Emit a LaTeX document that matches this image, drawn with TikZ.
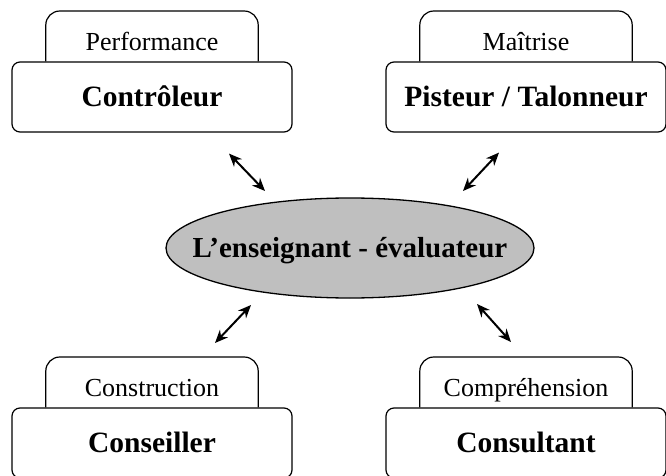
\documentclass[tikz,border=0pt]{standalone}
\usepackage{fontspec}
\setmainfont{Liberation Serif}
\usetikzlibrary{positioning,calc,shapes.geometric,arrows.meta}
\tikzset{
	role/.style={rectangle, rounded corners=8pt, draw=black, line width=1.2pt, fill=white, minimum width=280pt, minimum height=70pt, inner sep=0pt, text height=20pt, text depth=2pt, font=\fontsize{29.5}{33}\selectfont\bfseries},
	tab/.style={rectangle, minimum width=212pt, minimum height=50pt, inner sep=0pt, text height=28pt, text depth=0pt, font=\fontsize{26}{30}\selectfont},
	tabline/.style={rounded corners=14pt, line width=1.2pt},
	centre/.style={ellipse, draw=black, line width=1.3pt, fill=black!25, minimum width=368pt, minimum height=100pt, inner xsep=-32pt, inner ysep=0pt, text height=19pt, text depth=1pt, font=\fontsize{29}{33}\selectfont\bfseries},
	link/.style={<->, >={Stealth[length=13pt,width=11pt]}, line width=2pt}
}

\begin{document}
\begin{tikzpicture}[x=1pt,y=1pt]
\useasboundingbox (0,0) rectangle (666,475);
\node[role] (Ctrl) at (152,378) {Contrôleur};
\node[role] (Pist) at (526,378) {Pisteur / Talonneur};
\node[role] (Cons) at (152,32) {Conseiller};
\node[role] (Consu) at (526,32) {Consultant};
\node[tab, above=0pt of Ctrl] (PerfTab) {Performance};
\node[tab, above=0pt of Pist] (MaitTab) {Maîtrise};
\node[tab, above=0pt of Cons] (ConstTab) {Construction};
\node[tab, above=0pt of Consu] (CompTab) {Compréhension};
\node[centre] (Ens) at (350,227) {L’enseignant - évaluateur};

% tab outlines, open at the bottom
\draw[tabline] (PerfTab.south west) -- (PerfTab.north west) -- (PerfTab.north east) -- (PerfTab.south east);
\draw[tabline] (MaitTab.south west) -- (MaitTab.north west) -- (MaitTab.north east) -- (MaitTab.south east);
\draw[tabline] (ConstTab.south west) -- (ConstTab.north west) -- (ConstTab.north east) -- (ConstTab.south east);
\draw[tabline] (CompTab.south west) -- (CompTab.north west) -- (CompTab.north east) -- (CompTab.south east);

% arrow ends
\coordinate (tlA) at ($(Ctrl.south)+(77,-21)$);
\coordinate (tlB) at ($(Ens.center)+(-85,57)$);
\coordinate (trA) at ($(Pist.south)+(-27,-20)$);
\coordinate (trB) at ($(Ens.center)+(113,57)$);
\coordinate (blA) at ($(ConstTab.north)+(63,14)$);
\coordinate (blB) at ($(Ens.center)+(-99,-57)$);
\coordinate (brA) at ($(CompTab.north)+(-15,15)$);
\coordinate (brB) at ($(Ens.center)+(127,-56)$);
\draw[link] (tlA) -- (tlB);
\draw[link] (trA) -- (trB);
\draw[link] (blA) -- (blB);
\draw[link] (brA) -- (brB);
\end{tikzpicture}
\end{document}
